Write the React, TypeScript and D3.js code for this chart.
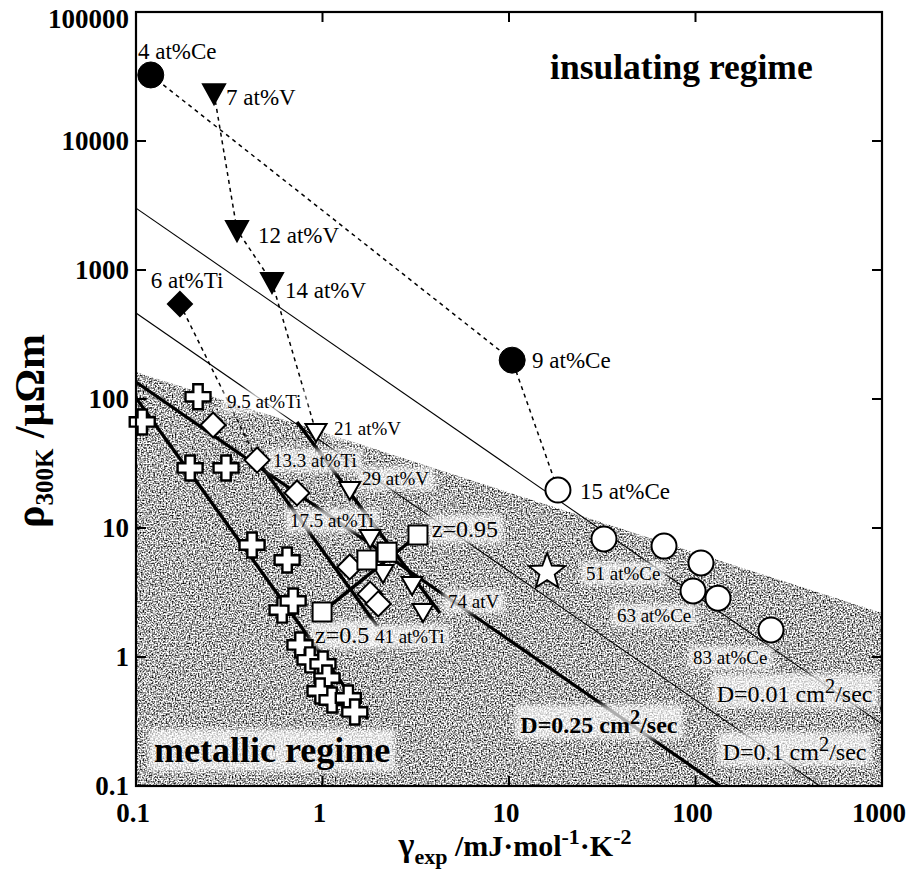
import { useEffect, useRef } from "react";
import * as d3 from "d3";

const W = 908;
const H = 878;
const plot = { left: 136, right: 882, top: 12, bottom: 786 };

// axes
const gammaDomain: [number, number] = [0.1, 1000];
const rhoDomain: [number, number] = [0.1, 100000];
const xTicks = [0.1, 1, 10, 100, 1000];
const xTickLabels = ["0.1", "1", "10", "100", "1000"];
const yTicks = [0.1, 1, 10, 100, 1000, 10000, 100000];
const yTickLabels = ["0.1", "1", "10", "100", "1000", "10000", "100000"];

// upper edge of the metallic regime (gamma, rho)
const metallicEdge: [number, number][] = [
  [0.1, 162],
  [1000, 2.19],
];

// constant-diffusivity lines: rho * gamma = k
const dLinesThin = [302, 46.4];
const dLineBold = 13.55;

// fitted lines through series (gamma, rho)
const crossFit: [number, number][] = [[0.1, 102], [1.75, 0.331]];
const tiFit: [number, number][] = [[0.446, 33.6], [1.96, 1.74]];
const vFit: [number, number][] = [[0.73, 66.4], [4.27, 2.19]];
const zFit: [number, number][] = [[0.995, 2.23], [3.25, 8.83]];

// samples (gamma in mJ/mol K^2, rho in micro-ohm m)
const crosses: [number, number][] = [
  [0.108, 66.4], [0.215, 104], [0.195, 29.2], [0.304, 29.2], [0.419, 7.38],
  [0.646, 5.65], [0.607, 2.31], [0.696, 2.72], [0.757, 1.24], [0.857, 0.95],
  [1.006, 0.883], [1.057, 0.687], [0.97, 0.545], [1.125, 0.464], [1.375, 0.481],
  [1.49, 0.375],
];
const ceInsulating: [number, number][] = [[0.12, 32500], [10.4, 200]];
const ceMetallic: [number, number][] = [
  [18.3, 19.7], [32.3, 8.22], [67.8, 7.24], [107, 5.36], [97, 3.25], [132, 2.86], [254, 1.62],
];
const starPoint: [number, number][] = [[16.0, 4.56]];
const vInsulating: [number, number][] = [[0.262, 23500], [0.348, 2040], [0.536, 807]];
const vMetallic: [number, number][] = [
  [0.923, 55.5], [1.4, 19.7], [1.8, 8.36], [2.11, 4.48], [3.02, 3.61], [3.46, 2.23],
];
const tiInsulating: [number, number][] = [[0.172, 545]];
const tiMetallic: [number, number][] = [
  [0.259, 62.9], [0.446, 33.6], [0.73, 18.7], [1.4, 4.99], [1.8, 3.07], [1.99, 2.58],
];
const zSquares: [number, number][] = [[0.995, 2.23], [1.73, 5.65], [2.22, 6.5], [3.25, 8.83]];

// dotted composition paths
const ceChain: [number, number][] = [[0.12, 32500], [10.4, 200], [18.3, 19.7]];
const vChain: [number, number][] = [[0.262, 23500], [0.348, 2040], [0.536, 807], [0.923, 55.5]];
const tiChain: [number, number][] = [[0.172, 545], [0.446, 33.6]];

type Label = {
  text: string;
  at: [number, number];
  size: number;
  bold?: boolean;
  halo?: boolean;
  sup?: string;
  tail?: string;
};

const labels: Label[] = [
  { text: "4 at%Ce", at: [0.1025, 43300], size: 23 },
  { text: "7 at%V", at: [0.304, 19000], size: 23 },
  { text: "12 at%V", at: [0.451, 1620], size: 23 },
  { text: "14 at%V", at: [0.629, 607], size: 23 },
  { text: "6 at%Ti", at: [0.12, 724], size: 23 },
  { text: "9 at%Ce", at: [13.3, 174], size: 23 },
  { text: "15 at%Ce", at: [24.0, 16.8], size: 23 },
  { text: "9.5 at%Ti", at: [0.308, 85.1], size: 19, halo: true },
  { text: "21 at%V", at: [1.153, 52.6], size: 19, halo: true },
  { text: "13.3 at%Ti", at: [0.543, 29.7], size: 19, halo: true },
  { text: "29 at%V", at: [1.63, 21.5], size: 19, halo: true },
  { text: "17.5 at%Ti", at: [0.67, 10.2], size: 19, halo: true },
  { text: "z=0.95", at: [3.86, 8.51], size: 24, halo: true },
  { text: "z=0.5", at: [0.912, 1.29], size: 24, halo: true },
  { text: "41 at%Ti", at: [1.91, 1.29], size: 19, halo: true },
  { text: "74 atV", at: [4.71, 2.4], size: 19, halo: true },
  { text: "51 at%Ce", at: [25.9, 3.95], size: 19, halo: true },
  { text: "63 at%Ce", at: [37.9, 1.87], size: 19, halo: true },
  { text: "83 at%Ce", at: [97.0, 0.883], size: 19, halo: true },
  { text: "D=0.01 cm", sup: "2", tail: "/sec", at: [130, 0.448], size: 24, halo: true },
  { text: "D=0.1 cm", sup: "2", tail: "/sec", at: [140, 0.159], size: 24, halo: true },
  { text: "D=0.25 cm", sup: "2", tail: "/sec", at: [11.5, 0.258], size: 24, bold: true, halo: true },
  { text: "insulating regime", at: [16.6, 30300], size: 35.5, bold: true },
  { text: "metallic regime", at: [0.125, 0.153], size: 36, bold: true, halo: true },
];

const FONT = "'Liberation Serif', 'Times New Roman', Times, serif";

function plusPath(a: number, w: number) {
  return `M${-w},${-a}H${w}V${-w}H${a}V${w}H${w}V${a}H${-w}V${w}H${-a}V${-w}H${-w}Z`;
}
function diamondPath(s: number) {
  return `M0,${-s}L${s},0L0,${s}L${-s},0Z`;
}
function triDownPath(hw: number, top: number, bottom: number) {
  return `M${-hw},${-top}L${hw},${-top}L0,${bottom}Z`;
}
function squarePath(h: number) {
  return `M${-h},${-h}H${h}V${h}H${-h}Z`;
}
function starPath(ro: number, ri: number) {
  const pts: string[] = [];
  for (let i = 0; i < 10; i++) {
    const r = i % 2 === 0 ? ro : ri;
    const a = -Math.PI / 2 + (i * Math.PI) / 5;
    pts.push(`${(r * Math.cos(a)).toFixed(2)},${(r * Math.sin(a)).toFixed(2)}`);
  }
  return `M${pts.join("L")}Z`;
}

export default function App() {
  const ref = useRef<SVGSVGElement>(null);

  useEffect(() => {
    const svg = d3.select(ref.current!);
    svg.selectAll("*").remove();

    const x = d3.scaleLog().domain(gammaDomain).range([plot.left, plot.right]);
    const y = d3.scaleLog().domain(rhoDomain).range([plot.bottom, plot.top]);
    const line = d3
      .line<[number, number]>()
      .x((d) => x(d[0]))
      .y((d) => y(d[1]));

    const defs = svg.append("defs");
    defs
      .append("clipPath")
      .attr("id", "plotClip")
      .append("rect")
      .attr("x", plot.left)
      .attr("y", plot.top)
      .attr("width", plot.right - plot.left)
      .attr("height", plot.bottom - plot.top);

    // fine stipple texture for the metallic regime
    const grain = defs
      .append("filter")
      .attr("id", "grain")
      .attr("filterUnits", "userSpaceOnUse")
      .attr("x", plot.left)
      .attr("y", plot.top)
      .attr("width", plot.right - plot.left)
      .attr("height", plot.bottom - plot.top)
      .attr("color-interpolation-filters", "sRGB");
    grain
      .append("feTurbulence")
      .attr("type", "fractalNoise")
      .attr("baseFrequency", 0.65)
      .attr("numOctaves", 1)
      .attr("seed", 5)
      .attr("result", "noise");
    grain
      .append("feColorMatrix")
      .attr("in", "noise")
      .attr("type", "matrix")
      .attr("values", "1 0 0 0 0  1 0 0 0 0  1 0 0 0 0  0 0 0 0 1")
      .attr("result", "gray");
    const ct = grain.append("feComponentTransfer").attr("in", "gray").attr("result", "contrast");
    ["feFuncR", "feFuncG", "feFuncB"].forEach((f) =>
      ct.append(f).attr("type", "linear").attr("slope", 2.6).attr("intercept", -0.6)
    );
    grain
      .append("feComposite")
      .attr("in", "contrast")
      .attr("in2", "SourceGraphic")
      .attr("operator", "in");

    const soft = defs
      .append("filter")
      .attr("id", "soft")
      .attr("x", "-20%")
      .attr("y", "-40%")
      .attr("width", "140%")
      .attr("height", "180%");
    soft.append("feGaussianBlur").attr("stdDeviation", 2.5);

    const clipped = svg.append("g").attr("clip-path", "url(#plotClip)");

    // metallic regime shading
    const region: [number, number][] = [
      metallicEdge[0],
      metallicEdge[1],
      [gammaDomain[1], rhoDomain[0]],
      [gammaDomain[0], rhoDomain[0]],
    ];
    clipped
      .append("path")
      .attr("d", line(region) + "Z")
      .attr("fill", "#999")
      .attr("filter", "url(#grain)");

    // constant-D lines
    const dLine = (k: number): [number, number][] => [
      [gammaDomain[0], k / gammaDomain[0]],
      [gammaDomain[1], k / gammaDomain[1]],
    ];
    dLinesThin.forEach((k) =>
      clipped
        .append("path")
        .attr("d", line(dLine(k)))
        .attr("fill", "none")
        .attr("stroke", "#000")
        .attr("stroke-width", 1.1)
    );
    clipped
      .append("path")
      .attr("d", line(dLine(dLineBold)))
      .attr("fill", "none")
      .attr("stroke", "#000")
      .attr("stroke-width", 3.2);

    [crossFit, tiFit, vFit, zFit].forEach((seg) =>
      clipped
        .append("path")
        .attr("d", line(seg))
        .attr("fill", "none")
        .attr("stroke", "#000")
        .attr("stroke-width", 3.4)
    );

    [ceChain, vChain, tiChain].forEach((seg) =>
      clipped
        .append("path")
        .attr("d", line(seg))
        .attr("fill", "none")
        .attr("stroke", "#000")
        .attr("stroke-width", 1.5)
        .attr("stroke-dasharray", "4,4")
    );

    const haloG = svg.append("g");
    const markG = svg.append("g");
    const labelG = svg.append("g");

    const drawMarks = (data: [number, number][], d: string, fill: string, sw = 2) => {
      markG
        .append("g")
        .selectAll("path")
        .data(data)
        .join("path")
        .attr("d", d)
        .attr("transform", (p) => `translate(${x(p[0])},${y(p[1])})`)
        .attr("fill", fill)
        .attr("stroke", "#000")
        .attr("stroke-width", sw)
        .attr("stroke-linejoin", "miter");
    };

    drawMarks(vMetallic, triDownPath(10.5, 8, 10), "#fff");
    drawMarks(vInsulating, triDownPath(11, 9, 11), "#000");
    drawMarks(tiMetallic, diamondPath(12.5), "#fff");
    drawMarks(tiInsulating, diamondPath(12), "#000");
    drawMarks(crosses, plusPath(12.5, 4.7), "#fff", 2.4);
    drawMarks(zSquares, squarePath(9.5), "#fff");
    drawMarks(starPoint, starPath(19, 8), "#fff", 1.8);

    markG
      .append("g")
      .selectAll("circle")
      .data(ceMetallic)
      .join("circle")
      .attr("cx", (p) => x(p[0]))
      .attr("cy", (p) => y(p[1]))
      .attr("r", 12.5)
      .attr("fill", "#fff")
      .attr("stroke", "#000")
      .attr("stroke-width", 2);
    markG
      .append("g")
      .selectAll("circle")
      .data(ceInsulating)
      .join("circle")
      .attr("cx", (p) => x(p[0]))
      .attr("cy", (p) => y(p[1]))
      .attr("r", 13)
      .attr("fill", "#000")
      .attr("stroke", "#000")
      .attr("stroke-width", 1);

    // annotations
    labels.forEach((l) => {
      const t = labelG
        .append("text")
        .attr("x", x(l.at[0]))
        .attr("y", y(l.at[1]))
        .attr("font-family", FONT)
        .attr("font-size", l.size)
        .attr("font-weight", l.bold ? "bold" : "normal")
        .attr("fill", "#000");
      t.append("tspan").text(l.text);
      if (l.sup) {
        t.append("tspan")
          .attr("dy", -l.size * 0.38)
          .attr("font-size", l.size * 0.85)
          .text(l.sup);
        t.append("tspan").attr("dy", l.size * 0.38).text(l.tail || "");
      }
      if (l.halo) {
        const b = (t.node() as SVGTextElement).getBBox();
        haloG
          .append("rect")
          .attr("x", b.x - 5)
          .attr("y", b.y - 1)
          .attr("width", b.width + 10)
          .attr("height", b.height + 2)
          .attr("fill", "#fff")
          .attr("opacity", 0.68)
          .attr("filter", "url(#soft)");
      }
    });

    // frame and ticks
    const axisG = svg.append("g");
    axisG
      .append("rect")
      .attr("x", plot.left)
      .attr("y", plot.top)
      .attr("width", plot.right - plot.left)
      .attr("height", plot.bottom - plot.top)
      .attr("fill", "none")
      .attr("stroke", "#000")
      .attr("stroke-width", 2.2);
    const tl = 10;
    yTicks.forEach((v) => {
      axisG.append("line").attr("x1", plot.left).attr("x2", plot.left + tl).attr("y1", y(v)).attr("y2", y(v)).attr("stroke", "#000").attr("stroke-width", 2);
      axisG.append("line").attr("x1", plot.right).attr("x2", plot.right - tl).attr("y1", y(v)).attr("y2", y(v)).attr("stroke", "#000").attr("stroke-width", 2);
    });
    xTicks.forEach((v) => {
      axisG.append("line").attr("x1", x(v)).attr("x2", x(v)).attr("y1", plot.bottom).attr("y2", plot.bottom - tl).attr("stroke", "#000").attr("stroke-width", 2);
      axisG.append("line").attr("x1", x(v)).attr("x2", x(v)).attr("y1", plot.top).attr("y2", plot.top + tl).attr("stroke", "#000").attr("stroke-width", 2);
    });

    axisG
      .append("g")
      .selectAll("text")
      .data(yTicks)
      .join("text")
      .attr("x", plot.left - 7)
      .attr("y", (v) => Math.max(y(v) + 9, 28))
      .attr("text-anchor", "end")
      .attr("font-family", FONT)
      .attr("font-weight", "bold")
      .attr("font-size", 27)
      .text((_, i) => yTickLabels[i]);
    axisG
      .append("g")
      .selectAll("text")
      .data(xTicks)
      .join("text")
      .attr("x", (v) => x(v) - 3)
      .attr("y", 822)
      .attr("text-anchor", "middle")
      .attr("font-family", FONT)
      .attr("font-weight", "bold")
      .attr("font-size", 27)
      .text((_, i) => xTickLabels[i]);

    // axis titles
    const yt = axisG
      .append("text")
      .attr("transform", `translate(44,${(plot.top + plot.bottom) / 2 + 32}) rotate(-90)`)
      .attr("text-anchor", "middle")
      .attr("font-family", FONT)
      .attr("font-weight", "bold")
      .attr("font-size", 42);
    yt.append("tspan").text("ρ");
    yt.append("tspan").attr("font-size", 25).attr("dy", 9).text("300K");
    yt.append("tspan").attr("dy", -9).text(" /μΩm");

    const xt = axisG
      .append("text")
      .attr("x", 515)
      .attr("y", 856)
      .attr("text-anchor", "middle")
      .attr("font-family", FONT)
      .attr("font-weight", "bold")
      .attr("font-size", 30);
    xt.append("tspan").attr("font-size", 34).text("γ");
    xt.append("tspan").attr("font-size", 22).attr("dy", 8).text("exp");
    xt.append("tspan").attr("dy", -8).text(" /mJ·mol");
    xt.append("tspan").attr("font-size", 22).attr("dy", -12).text("-1");
    xt.append("tspan").attr("dy", 12).text("·K");
    xt.append("tspan").attr("font-size", 22).attr("dy", -12).text("-2");
  }, []);

  return (
    <svg
      ref={ref}
      width={W}
      height={H}
      style={{ position: "absolute", left: 0, top: 0, background: "#fff" }}
    />
  );
}
